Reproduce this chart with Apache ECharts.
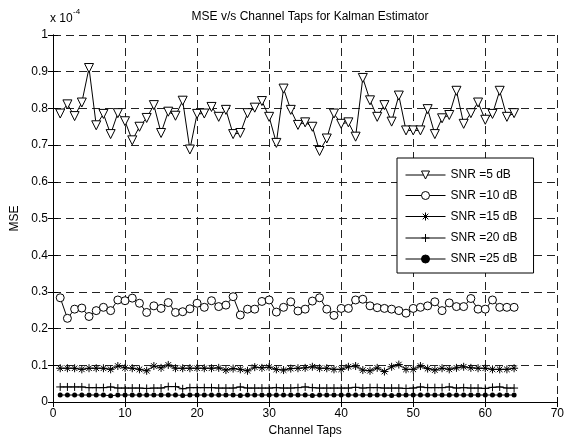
<!DOCTYPE html>
<html>
<head>
<meta charset="utf-8">
<script src="https://cdn.jsdelivr.net/npm/echarts@6/dist/echarts.min.js"></script>
<style>
  html, body { margin: 0; padding: 0; background: #fff; }
  #chart { width: 567px; height: 444px; }
</style>
</head>
<body>
<div id="chart"></div>
<script>
// MSE per channel tap, values in units of 1e-4
var taps = [];
for (var i = 1; i <= 64; i++) taps.push(i);

var snr5 = [0.786,0.811,0.779,0.816,0.910,0.754,0.785,0.730,0.787,0.765,
            0.713,0.750,0.774,0.809,0.733,0.791,0.780,0.821,0.688,0.785,
            0.786,0.804,0.777,0.796,0.730,0.733,0.787,0.802,0.820,0.777,
            0.706,0.854,0.796,0.755,0.762,0.750,0.684,0.718,0.786,0.758,
            0.762,0.723,0.883,0.822,0.777,0.809,0.764,0.835,0.740,0.740,
            0.740,0.798,0.730,0.773,0.782,0.848,0.758,0.787,0.816,0.769,
            0.785,0.848,0.777,0.787];
var snr10 = [0.284,0.228,0.253,0.256,0.233,0.249,0.258,0.249,0.278,0.276,
             0.283,0.269,0.244,0.262,0.255,0.271,0.244,0.246,0.254,0.269,
             0.258,0.276,0.260,0.264,0.287,0.237,0.253,0.253,0.274,0.278,
             0.245,0.258,0.273,0.248,0.253,0.275,0.284,0.253,0.236,0.255,
             0.255,0.278,0.280,0.262,0.257,0.255,0.253,0.249,0.242,0.255,
             0.258,0.262,0.273,0.249,0.270,0.260,0.260,0.282,0.253,0.253,
             0.278,0.258,0.258,0.258];
var snr15 = [0.092,0.092,0.092,0.089,0.092,0.092,0.092,0.089,0.098,0.093,
             0.092,0.089,0.085,0.098,0.093,0.101,0.092,0.092,0.092,0.092,
             0.092,0.092,0.093,0.087,0.091,0.089,0.085,0.095,0.093,0.095,
             0.089,0.087,0.091,0.092,0.093,0.096,0.092,0.092,0.089,0.089,
             0.096,0.098,0.087,0.085,0.093,0.083,0.096,0.102,0.089,0.089,
             0.098,0.091,0.087,0.092,0.089,0.093,0.096,0.093,0.092,0.092,
             0.089,0.089,0.089,0.092];
var snr20 = [0.041,0.041,0.041,0.041,0.039,0.039,0.039,0.041,0.038,0.038,
             0.038,0.038,0.037,0.038,0.038,0.042,0.042,0.036,0.039,0.039,
             0.039,0.039,0.038,0.038,0.038,0.041,0.038,0.038,0.038,0.038,
             0.039,0.038,0.038,0.039,0.041,0.039,0.038,0.038,0.038,0.038,
             0.038,0.040,0.038,0.039,0.039,0.038,0.038,0.038,0.037,0.038,
             0.041,0.039,0.039,0.039,0.041,0.038,0.039,0.038,0.038,0.037,
             0.040,0.041,0.038,0.038];
var snr25 = [0.019,0.019,0.019,0.019,0.019,0.019,0.019,0.017,0.019,0.019,
             0.019,0.019,0.019,0.019,0.019,0.019,0.019,0.018,0.019,0.019,
             0.019,0.019,0.019,0.019,0.019,0.018,0.019,0.019,0.019,0.019,
             0.019,0.019,0.019,0.019,0.019,0.018,0.019,0.019,0.019,0.019,
             0.019,0.019,0.019,0.019,0.019,0.019,0.018,0.019,0.019,0.019,
             0.019,0.019,0.019,0.019,0.019,0.019,0.019,0.019,0.019,0.019,
             0.019,0.019,0.019,0.019];

var seriesNames = ['SNR =5 dB', 'SNR =10 dB', 'SNR =15 dB', 'SNR =20 dB', 'SNR =25 dB'];
var xTicks = [0, 70, 10];   // min, max, step
var yTicks = [0, 1, 0.1];

var FONT = "'Liberation Sans', Arial, sans-serif";
var STAR = 'path://M5,0L5,10M0,5L10,5M1.5,1.5L8.5,8.5M1.5,8.5L8.5,1.5';
var PLUS = 'path://M5,0L5,10M0,5L10,5';

function pairs(vals) {
  return vals.map(function (v, i) { return [taps[i], v]; });
}

function lineSeries(name, vals, symbol, size, opts) {
  var s = {
    name: name,
    type: 'line',
    data: pairs(vals),
    symbol: symbol,
    symbolSize: size,
    showSymbol: true,
    showAllSymbol: true,
    lineStyle: { color: '#000', width: 1 },
    itemStyle: { color: '#fff', borderColor: '#000', borderWidth: 1 },
    emphasis: { disabled: true },
    animation: false
  };
  for (var k in opts) s[k] = opts[k];
  return s;
}

var chart = echarts.init(document.getElementById('chart'), null, { renderer: 'canvas' });

var insideAxis = {
  axisLine: { show: true, lineStyle: { color: '#000', width: 1 } },
  axisTick: { show: true, inside: true, length: 5, lineStyle: { color: '#000' } }
};

chart.setOption({
  backgroundColor: '#fff',
  animation: false,
  textStyle: { fontFamily: FONT },
  title: {
    text: 'MSE v/s Channel Taps for Kalman Estimator',
    left: 305, top: 6, textAlign: 'center',
    textStyle: { fontFamily: FONT, fontSize: 12, fontWeight: 'normal', color: '#000' }
  },
  graphic: [
    { type: 'text', left: 50, top: 13, style: { text: 'x 10', font: '12px ' + FONT, fill: '#000' } },
    { type: 'text', left: 73, top: 8, style: { text: '-4', font: '8px ' + FONT, fill: '#000' } }
  ],
  grid: { left: 53, right: 9, top: 35, bottom: 42, containLabel: false },
  legend: {
    orient: 'vertical',
    left: 397, top: 158,
    data: seriesNames,
    backgroundColor: '#fff',
    borderColor: '#000',
    borderWidth: 1,
    padding: [11, 16, 8, 8],
    itemWidth: 40,
    itemHeight: 10,
    itemGap: 8.5,
    symbolRotate: 'inherit',
    selectedMode: false,
    lineStyle: { width: 1, color: '#000' },
    itemStyle: { borderWidth: 1, borderColor: '#000' },
    textStyle: { fontFamily: FONT, fontSize: 12, color: '#000' }
  },
  xAxis: [
    Object.assign({
      type: 'value', min: xTicks[0], max: xTicks[1], interval: xTicks[2],
      position: 'bottom',
      name: 'Channel Taps', nameLocation: 'middle', nameGap: 22,
      nameTextStyle: { fontFamily: FONT, fontSize: 12, color: '#000' },
      axisLabel: { color: '#000', fontSize: 12, fontFamily: FONT, margin: 6 },
      splitLine: { show: true, lineStyle: { color: '#222', type: [8, 5], width: 1 } }
    }, insideAxis),
    Object.assign({
      type: 'value', min: xTicks[0], max: xTicks[1], interval: xTicks[2],
      position: 'top',
      axisLabel: { show: false },
      splitLine: { show: false }
    }, insideAxis)
  ],
  yAxis: [
    Object.assign({
      type: 'value', min: yTicks[0], max: yTicks[1], interval: yTicks[2],
      position: 'left',
      name: 'MSE', nameLocation: 'middle', nameGap: 27,
      nameTextStyle: { fontFamily: FONT, fontSize: 12, color: '#000' },
      axisLabel: { color: '#000', fontSize: 12, fontFamily: FONT, margin: 5,
        formatter: function (v) { return String(Math.round(v * 10) / 10); } },
      splitLine: { show: true, lineStyle: { color: '#222', type: [8, 5], width: 1 } }
    }, insideAxis),
    Object.assign({
      type: 'value', min: yTicks[0], max: yTicks[1], interval: yTicks[2],
      position: 'right',
      axisLabel: { show: false },
      splitLine: { show: false }
    }, insideAxis)
  ],
  series: [
    lineSeries(seriesNames[0], snr5, 'triangle', 9, { symbolRotate: 180 }),
    lineSeries(seriesNames[1], snr10, 'circle', 8, {}),
    lineSeries(seriesNames[2], snr15, STAR, 8, {
      itemStyle: { color: 'none', borderColor: '#000', borderWidth: 1 } }),
    lineSeries(seriesNames[3], snr20, PLUS, 8, {
      itemStyle: { color: 'none', borderColor: '#000', borderWidth: 1 } }),
    lineSeries(seriesNames[4], snr25, 'circle', 5, {
      itemStyle: { color: '#000', borderColor: '#000', borderWidth: 0 } })
  ]
});
</script>
</body>
</html>
